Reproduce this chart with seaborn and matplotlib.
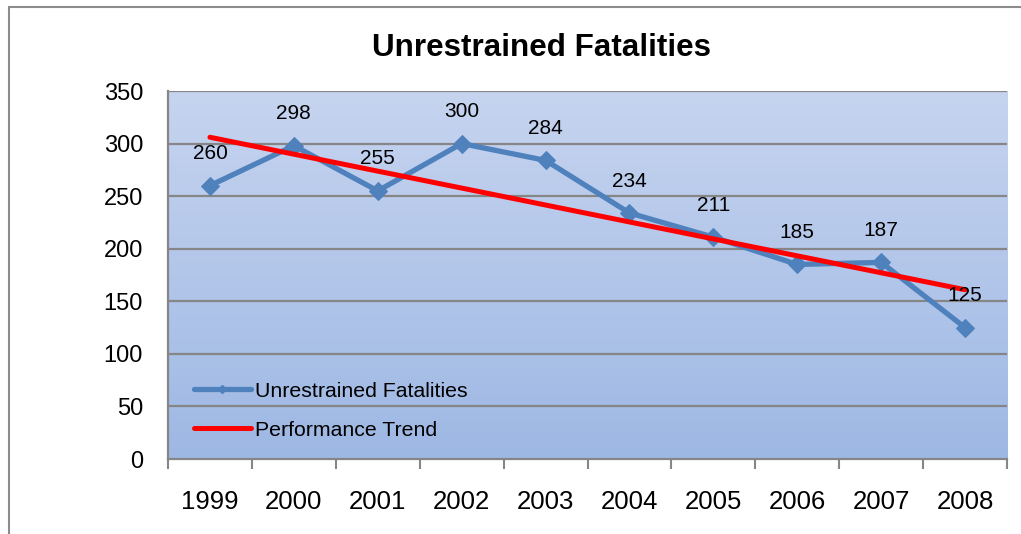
import numpy as np
import pandas as pd
import matplotlib
matplotlib.use("Agg")
import matplotlib.pyplot as plt
import seaborn as sns
from matplotlib.colors import LinearSegmentedColormap
from matplotlib.patches import Rectangle
from matplotlib.lines import Line2D

years = ["1999", "2000", "2001", "2002", "2003", "2004", "2005", "2006", "2007", "2008"]
fatalities = [260, 298, 255, 300, 284, 234, 211, 185, 187, 125]
trend_years = ["1999", "2008"]
trend_values = [306, 161]
y_ticks = [0, 50, 100, 150, 200, 250, 300, 350]

sns.set_theme(style="white")
plt.rcParams['font.family'] = ['Liberation Sans', 'DejaVu Sans']
plt.rcParams['text.color'] = 'black'
plt.rcParams['xtick.labelcolor'] = 'black'
plt.rcParams['ytick.labelcolor'] = 'black'

fig = plt.figure(figsize=(10.21, 5.34), dpi=100)
W, H = 1021, 534
ax = fig.add_axes([168 / W, 1 - 459 / H, (1007 - 168) / W, (459 - 91) / H])

df = pd.DataFrame({"year": years, "value": fatalities})
df["pos"] = np.arange(len(years))
tdf = pd.DataFrame({"pos": [years.index(y) for y in trend_years], "value": trend_values})

# gradient background
cmap = LinearSegmentedColormap.from_list("bg", ["#9eb8e4", "#c6d4ef"])
grad = np.linspace(0, 1, 256).reshape(-1, 1)
ax.imshow(grad, aspect="auto", cmap=cmap, origin="lower",
          extent=[-0.5, len(years) - 0.5, 0, 350], zorder=0)

blue = "#4f81bd"
sns.lineplot(data=df, x="pos", y="value", ax=ax, color=blue, lw=3.8,
             marker="D", markersize=9.5, markeredgecolor=blue, zorder=3)
sns.lineplot(data=tdf, x="pos", y="value", ax=ax, color="#ff0000", lw=3.6, zorder=4)

for p, v in zip(df["pos"], df["value"]):
    ax.annotate(str(v), (p, v), xytext=(0, 23), textcoords="offset points",
                ha="center", va="center", fontsize=15, color="black", zorder=5)

ax.set_xlim(-0.5, len(years) - 0.5)
ax.set_ylim(0, 350)
ax.set_yticks(y_ticks)
ax.set_yticklabels([str(t) for t in y_ticks], fontsize=17)
ax.set_xticks(df["pos"])
ax.set_xticklabels(years, fontsize=18.5)
ax.set_xticks(np.arange(-0.5, len(years)), minor=True)
ax.tick_params(axis="x", which="major", length=0, pad=22)
ax.tick_params(axis="x", which="minor", length=7, width=1.5, color="#868686", direction="out", bottom=True)
ax.tick_params(axis="y", length=0, pad=18)
for yv in y_ticks[1:]:
    ax.axhline(yv, color="#868686", lw=1.6, zorder=1)
ax.set_xlabel("")
ax.set_ylabel("")
for s in ["top", "right"]:
    ax.spines[s].set_visible(False)
for s in ["left", "bottom"]:
    ax.spines[s].set_color("#868686")
    ax.spines[s].set_linewidth(1.6)
ax.grid(False)

handles = [Line2D([0], [0], color=blue, lw=3.8, marker="D", markersize=4),
           Line2D([0], [0], color="#ff0000", lw=3.6)]
leg = ax.legend(handles, ["Unrestrained Fatalities", "Performance Trend"],
                loc="lower left", bbox_to_anchor=(0.008, 0.0), frameon=False,
                fontsize=15.3, handlelength=2.67, handletextpad=0.2, labelspacing=0.95)
for t in leg.get_texts():
    t.set_color("black")

fig.text(541 / W, 1 - 48 / H, "Unrestrained Fatalities", ha="center", va="center",
         fontsize=22.6, fontweight="bold", color="black")

# outer frame
fig.patches.append(Rectangle((9 / W, -0.1), 1.2, 1 - 7 / H + 0.1, transform=fig.transFigure,
                             fill=False, edgecolor="#8c8c8c", lw=1.5))

fig.savefig("out.png", dpi=100)
